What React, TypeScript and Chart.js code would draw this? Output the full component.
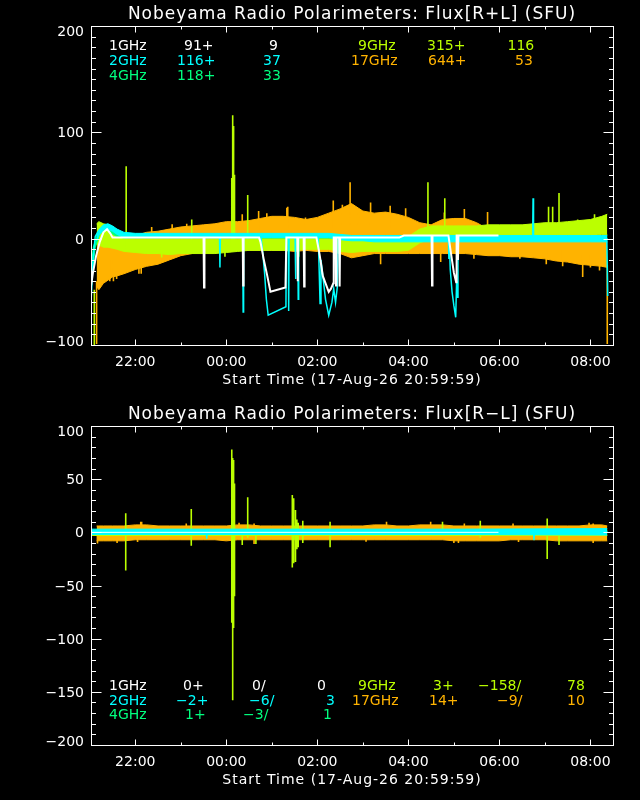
import React, { useEffect, useRef } from "react";
import { Chart, registerables } from "chart.js";

Chart.register(...registerables);

const WHITE = "#ffffff";
const CYAN = "#00ffff";
const GREEN = "#00ff7f";
const LIME = "#bbff00";
const ORANGE = "#ffb300";
const FONT = '"DejaVu Sans", "Liberation Sans", sans-serif';

// ---------- axes ----------
const X_MIN = 21.027;
const X_MAX = 32.496;
const X_TICKS = [22, 24, 26, 28, 30, 32];
const X_TICK_LABELS = ["22:00", "00:00", "02:00", "04:00", "06:00", "08:00"];
const X_MINOR = [22, 23, 24, 25, 26, 27, 28, 29, 30, 31, 32];
const SUM_Y_TICKS = [200, 100, 0, -100];
const SUM_Y_LABELS = ["200", "100", "0", "\u2212100"];
const DIF_Y_TICKS = [100, 50, 0, -50, -100, -150, -200];
const DIF_Y_LABELS = ["100", "50", "0", "\u221250", "\u2212100", "\u2212150", "\u2212200"];
const Y_MINOR_STEP = 10;

const SUM_TITLE = "Nobeyama Radio Polarimeters: Flux[R+L] (SFU)";
const DIF_TITLE = "Nobeyama Radio Polarimeters: Flux[R\u2212L] (SFU)";
const X_TITLE = "Start Time (17-Aug-26 20:59:59)";

// ---------- shared band times (hours from 00:00 on 17-Aug) ----------
const T = [21.15, 21.2, 21.3, 21.4, 21.5, 21.6, 21.75, 22.0, 22.25, 22.5, 22.75, 23.0, 23.25, 23.5, 23.75,
  24.0, 24.25, 24.5, 24.75, 25.0, 25.25, 25.5, 25.75, 26.0, 26.25, 26.5, 26.75, 27.0, 27.25, 27.5, 27.75,
  28.0, 28.25, 28.5, 28.75, 29.0, 29.25, 29.5, 29.75, 30.0, 30.25, 30.5, 30.75, 31.0, 31.25, 31.5, 31.75,
  32.0, 32.25, 32.37];

// ---------- R+L panel ----------
const SUM_ORANGE_HI = [-5, -3, -3, -2, -2, -1, 0, 3, 6, 7, 9, 11, 12, 13, 14, 16, 16, 17, 19, 21, 21, 20, 18, 20,
  24, 28, 33, 26, 24, 25, 23, 20, 15, 13, 18, 19, 19, 15, 9, 5, 3, 1, 0, 0, 0, -1, -1, -2, -2, -3];
const SUM_ORANGE_LO = [-45, -48, -42, -39, -36, -35, -33, -29, -26, -24, -20, -16, -14, -12, -11, -11, -11, -11, -11,
  -11, -11, -12, -11, -12, -12, -14, -18, -16, -14, -14, -14, -14, -14, -14, -14, -14, -14, -15, -16, -16, -17, -17,
  -18, -19, -21, -22, -24, -25, -26, -27];
const SUM_ORANGE_SPIKES = [[21.15, -99, -40], [21.44, -40, -20], [21.52, -40, -20], [21.59, -38, -20],
  [22.08, -33, -15], [22.13, -33, -15], [22.36, 0, 11], [22.81, 0, 13.5], [23.13, 0, 14], [24.35, 5, 23],
  [24.71, 5, 26], [24.89, 5, 24], [25.33, 10, 29], [25.35, 10, 30], [25.74, 5, 20], [26.35, 10, 36],
  [26.55, 10, 32], [26.72, 10, 53], [26.91, 10, 27], [27.17, 10, 34], [27.39, -24, -10], [27.6, 10, 31],
  [27.94, 10, 28.6], [28.71, -22, -10], [28.79, 5, 24.5], [29.23, 5, 28], [29.44, -19, -10], [29.74, 0, 25],
  [30.45, -19, -10], [31.03, -24, -10], [31.39, -26, -10], [31.83, -36, -15], [32.0, -27, -15],
  [32.2, -30, -15], [32.37, -99, -25]];

const SUM_LIME_HI = [14, 16, 14, 13, 10, 5, 0, -1, -1, -1, -1, -1, -1, -1, -1, -1, -1, 0, 0, 0, 0, 0, 0, 0, 0, -1, -2,
  -1, -1, -1, -1, 2, 9, 12, 12, 12, 12, 12, 13, 13, 13, 13, 14, 15, 15, 16, 17, 18, 21, 23];
const SUM_LIME_LO = [-5, -6, -8, -8, -9, -10, -12, -13, -14, -14, -15, -14, -14, -14, -14, -13, -12, -11, -11, -11,
  -11, -11, -10, -10, -10, -12, -13, -12, -12, -12, -12, -11, -4, 0, 1, 1, 1, 1, 1, 1, 1, 1, 1, 2, 2, 2, 2, 3, 4, 4];
const SUM_LIME_SPIKES = [[21.1, -100, -48], [21.8, -10, 68], [22.58, -17.7, -5], [23.24, -5, 18], [23.97, -17, -5],
  [24.12, -8, 57], [24.14, -8, 116], [24.16, -8, 106], [24.18, -8, 60], [24.47, -5, 41], [25.59, -17, -5],
  [28.43, 0, 53], [28.8, 0, 38], [31.08, 2, 30], [31.17, 2, 30], [31.31, 2, 43], [31.72, 5, 18], [32.09, 5, 23]];

const SUM_CYAN_HI = [3, 8, 13, 14, 12, 9, 6, 5, 5, 5, 5, 5, 5, 5, 5, 5, 5, 5, 5, 5, 5, 5, 5, 5, 5, 4, 3, 3, 3, 3, 3,
  3, 3, 3, 3, 3, 3, 3, 3, 3, 3, 3, 3, 3, 3, 3, 3, 3, 3, 3];
const SUM_CYAN_LO = [-2, 3, 8, 9, 7, 4, 1, 1, 1, 1, 1, 1, 1, 1, 1, 1, 1, 1, 1, 1, 1, 1, 1, 1, 1, -1, -2, -2, -3, -3,
  -3, -3, -3, -3, -3, -3, -3, -3, -3, -3, -3, -3, -3, -3, -3, -3, -3, -3, -3, -3];
const SUM_CYAN_T = [21.03, 21.07, 21.12, 21.2, 21.3, 21.4, 21.5, 21.6, 21.75, 22.0, 23.85, 23.86, 23.87, 24.36, 24.37,
  24.38, 24.76, 24.8, 24.84, 24.88, 24.92, 25.31, 25.32, 25.36, 25.37, 25.38, 25.51, 25.52, 25.53, 25.57, 25.58,
  25.59, 26.02, 26.06, 26.08, 26.12, 26.18, 26.25, 26.32, 26.36, 26.4, 26.44, 26.46, 28.88, 28.89, 28.9, 28.92,
  28.96, 29.0, 29.04, 29.06, 29.07, 29.09, 30.73, 30.74, 30.75, 32.36, 32.38];
const SUM_CYAN_V = [-58, -20, 2, 8, 12, 13, 11, 7, 4, 3, 3, -27, 3, 3, -69, 3, 2, -13, -32, -57, -72, -64, 3, 3, -68,
  3, 3, -38, 3, 3, -57, 3, 3, -61, -20, -35, -57, -72, -60, -47, -60, -45, 1, 0, -19, 0, -29, -50, -63, -74, -40,
  -55, 0, 0, 38, 0, 0, -54];

const SUM_WHITE_T = [21.03, 21.07, 21.14, 21.22, 21.3, 21.38, 21.45, 21.5, 23.5, 23.51, 23.52, 24.36, 24.37, 24.38,
  24.72, 24.75, 24.82, 24.9, 24.97, 25.3, 25.32, 25.56, 25.57, 25.58, 25.7, 25.71, 25.72, 25.98, 26.05, 26.12,
  26.25, 26.3, 26.35, 26.36, 26.4, 26.41, 26.42, 26.48, 26.49, 26.5, 27.8, 27.9, 28.51, 28.52, 28.53, 28.88,
  28.93, 29.0, 29.05, 29.06, 29.08, 29.09, 29.1, 29.98];
const SUM_WHITE_V = [-44, -32, -16, -3, 6, 9, 5, 1, 1, -46, 1, 1, -44, 1, 1, -3, -19, -35, -50, -46, 1, 1, -40, 1, 1,
  -45, 1, 1, -15, -35, -50, -47, -42, 1, 1, -44, 1, 1, -45, 1, 1, 3, 3, -44, 3, 3, -12, -32, -41, 3, 3, -20, 3, 3];

const SUM_GREEN_T = [21.03, 21.1, 21.2, 21.3, 21.38, 21.45, 21.6, 21.75, 32.37];
const SUM_GREEN_V = [-35, -8, 5, 9, 12, 7, 3, 1.5, 1.5];

const SUM_NOTE_TEXT = [["1GHz", "91+", "9", "9GHz", "315+", "116"], ["2GHz", "116+", "37", "17GHz", "644+", "53"],
  ["4GHz", "118+", "33"]];
const SUM_NOTE_COLOR = [[WHITE, WHITE, WHITE, LIME, LIME, LIME], [CYAN, CYAN, CYAN, ORANGE, ORANGE, ORANGE],
  [GREEN, GREEN, GREEN]];
const SUM_NOTE_X = [[109, 184, 269, 358, 427, 507.5], [109, 177, 263, 351, 428, 515], [109, 177, 263]];
const SUM_NOTE_Y = [45, 60, 75];

// ---------- R-L panel ----------
const DIF_ORANGE_HI = [6, 6, 6, 6, 6, 6, 6, 7, 7, 6, 6, 6, 6, 6, 6, 6, 7, 7, 6, 6, 6, 6, 6, 6, 6, 6, 6, 6, 7, 7, 6,
  6, 7, 7, 7, 6, 6, 6, 6, 6, 6, 6, 6, 6, 6, 6, 6, 7, 7, 6];
const DIF_ORANGE_LO = [-8, -8, -8, -8, -8, -8, -8, -7, -7, -7, -7, -7, -7, -7, -7, -8, -7, -7, -7, -7, -7, -7, -7,
  -7, -7, -7, -7, -7, -7, -7, -7, -7, -7, -7, -7, -8, -8, -8, -8, -8, -7, -7, -7, -7, -8, -8, -8, -8, -8, -8];
const DIF_ORANGE_SPIKES = [[21.17, -10.4, 0], [21.6, -10, 0], [22.05, -9, 0], [22.12, 0, 10], [22.14, 0, 10],
  [23.12, 0, 8.4], [24.28, 0, 9], [24.61, -11, 8.4], [27.07, -8.8, 0], [27.52, 0, 10], [28.49, 0, 10],
  [29.0, -10, 0], [29.1, -10, 0], [29.23, 0, 8.4], [30.3, 0, 8.4], [30.42, -9, 0], [31.97, 0, 9], [32.06, -10, 8.4]];

const DIF_LIME_T = [21.03, 32.37];
const DIF_LIME_HI = [2, 2];
const DIF_LIME_LO = [-3, -3];
const DIF_LIME_SPIKES = [[21.79, -36, 18], [23.23, -12.5, 22], [24.12, -85, 78], [24.14, -158, 70],
  [24.16, -90, 68], [24.18, -60, 46], [24.35, -12, 3], [24.47, -5, 33], [24.65, -11, 3], [25.45, -33, 35],
  [25.48, -29, 32], [25.52, -28, 21], [25.55, -16, 12], [25.58, -14, 9], [25.68, -10, 11], [26.28, -14, 10],
  [28.75, -3, 10], [29.58, -5, 11], [31.05, -25, 13], [31.31, -12, 3]];

const DIF_CYAN_BAND_T = [21.03, 29.0, 32.37];
const DIF_CYAN_HI = [3, 3, 3.5];
const DIF_CYAN_LO = [-2, -2, -2.5];
const DIF_CYAN_T = [21.03, 23.56, 23.57, 23.58, 30.75, 30.76, 30.77, 32.37];
const DIF_CYAN_V = [0.5, 0.5, -6, 0.5, 0.5, -7.5, 0.5, 0.5];

const DIF_WHITE_T = [21.03, 29.98];
const DIF_WHITE_V = [0, 0];
const DIF_GREEN_T = [21.03, 32.37];
const DIF_GREEN_V = [0.5, 0.5];

const DIF_NOTE_TEXT = [["1GHz", "0+", "0/", "0", "9GHz", "3+", "\u2212158/", "78"],
  ["2GHz", "\u22122+", "\u22126/", "3", "17GHz", "14+", "\u22129/", "10"],
  ["4GHz", "1+", "\u22123/", "1"]];
const DIF_NOTE_COLOR = [[WHITE, WHITE, WHITE, WHITE, LIME, LIME, LIME, LIME],
  [CYAN, CYAN, CYAN, CYAN, ORANGE, ORANGE, ORANGE, ORANGE], [GREEN, GREEN, GREEN, GREEN]];
const DIF_NOTE_X = [[109, 183, 252, 317, 358, 433, 478, 567], [109, 176, 249, 326, 352, 429, 497, 567],
  [109, 185, 243, 323]];
const DIF_NOTE_Y = [285, 300, 314];

// ---------- helpers ----------
const pts = (ts: number[], vs: number[]) => ts.map((t, i) => ({ x: t, y: vs[i] }));
const spikePts = (sp: number[][]) =>
  sp.flatMap(([t, lo, hi]) => [{ x: t, y: lo }, { x: t, y: hi }, { x: t, y: null as any }]);

function line(data: any[], color: string, width: number, order: number) {
  return { data, borderColor: color, backgroundColor: color, borderWidth: width, fill: false, order,
    pointRadius: 0, tension: 0, spanGaps: false };
}
function band(ts: number[], hi: number[], lo: number[], color: string, order: number) {
  return [
    { data: pts(ts, hi), borderColor: color, backgroundColor: color, borderWidth: 1, fill: "+1", order,
      pointRadius: 0, tension: 0 },
    { data: pts(ts, lo), borderColor: color, backgroundColor: color, borderWidth: 1, fill: false, order,
      pointRadius: 0, tension: 0 },
  ];
}

function drawText(ctx: any, s: string, x: number, cy: number, size: number, color: string, align: string,
  spacing = "0px") {
  ctx.font = `${size}px ${FONT}`;
  try { ctx.letterSpacing = spacing; } catch (e) { /* ignore */ }
  ctx.fillStyle = color;
  ctx.textAlign = align;
  ctx.textBaseline = "alphabetic";
  ctx.fillText(s, x, cy + size * 0.364);
}

const decoPlugin = {
  id: "deco",
  afterDraw(chart: any, _a: any, o: any) {
    const ctx = chart.ctx;
    const { left, right, top, bottom } = chart.chartArea;
    const xs = chart.scales.x;
    const ys = chart.scales.y;
    ctx.save();
    ctx.strokeStyle = WHITE;
    ctx.lineWidth = 1;
    ctx.strokeRect(left + 0.5, top + 0.5, right - left, bottom - top);
    ctx.beginPath();
    for (const h of X_MINOR) {
      const px = Math.round(xs.getPixelForValue(h)) + 0.5;
      const len = X_TICKS.includes(h) ? 6 : 3;
      ctx.moveTo(px, bottom + 0.5); ctx.lineTo(px, bottom + 0.5 - len);
      ctx.moveTo(px, top + 0.5); ctx.lineTo(px, top + 0.5 + len);
    }
    for (let v = ys.min + Y_MINOR_STEP; v < ys.max; v += Y_MINOR_STEP) {
      const py = Math.round(ys.getPixelForValue(v)) + 0.5;
      const len = o.yTicks.includes(v) ? 10 : 4.5;
      ctx.moveTo(left + 0.5, py); ctx.lineTo(left + 0.5 + len, py);
      ctx.moveTo(right + 0.5, py); ctx.lineTo(right + 0.5 - len, py);
    }
    ctx.stroke();

    X_TICKS.forEach((h, i) => {
      drawText(ctx, X_TICK_LABELS[i], xs.getPixelForValue(h), 361, 14, WHITE, "center");
    });
    o.yTicks.forEach((v: number, i: number) => {
      let py = ys.getPixelForValue(v);
      if (v === ys.max) py += 5;
      if (v === ys.min) py -= 4;
      drawText(ctx, o.yLabels[i], 84, py, 14, WHITE, "right");
    });
    drawText(ctx, o.title, (left + right) / 2, 12.5, 17, WHITE, "center", "1px");
    drawText(ctx, X_TITLE, (left + right) / 2, 379, 14, WHITE, "center", "1px");
    o.noteText.forEach((row: string[], r: number) => {
      row.forEach((s: string, c: number) => {
        drawText(ctx, s, o.noteX[r][c], o.noteY[r], 14, o.noteColor[r][c], "left");
      });
    });
    ctx.restore();
  },
};

function makeConfig(datasets: any[], yMin: number, yMax: number, deco: any): any {
  return {
    type: "line",
    data: { datasets },
    options: {
      responsive: false,
      animation: false,
      events: [],
      layout: { padding: { left: 91, right: 27, top: 26, bottom: 55 } },
      scales: {
        x: { type: "linear", min: X_MIN, max: X_MAX, display: false },
        y: { type: "linear", min: yMin, max: yMax, display: false },
      },
      plugins: { legend: { display: false }, tooltip: { enabled: false }, title: { display: false }, deco },
      elements: { point: { radius: 0, hoverRadius: 0 }, line: { tension: 0 } },
    },
    plugins: [decoPlugin],
  };
}

function sumDatasets() {
  return [
    line(pts(SUM_WHITE_T, SUM_WHITE_V), WHITE, 2, 0),
    line(pts(SUM_CYAN_T, SUM_CYAN_V), CYAN, 1.5, 1),
    ...band(T, SUM_CYAN_HI, SUM_CYAN_LO, CYAN, 1),
    line(pts(SUM_GREEN_T, SUM_GREEN_V), GREEN, 3, 2),
    line(spikePts(SUM_LIME_SPIKES), LIME, 1.6, 3),
    ...band(T, SUM_LIME_HI, SUM_LIME_LO, LIME, 3),
    line(spikePts(SUM_ORANGE_SPIKES), ORANGE, 1.6, 4),
    ...band(T, SUM_ORANGE_HI, SUM_ORANGE_LO, ORANGE, 4),
  ];
}

function difDatasets() {
  return [
    line(pts(DIF_WHITE_T, DIF_WHITE_V), WHITE, 1, 0),
    line(pts(DIF_CYAN_T, DIF_CYAN_V), CYAN, 1.5, 1),
    ...band(DIF_CYAN_BAND_T, DIF_CYAN_HI, DIF_CYAN_LO, CYAN, 1),
    line(pts(DIF_GREEN_T, DIF_GREEN_V), GREEN, 2, 2),
    line(spikePts(DIF_LIME_SPIKES), LIME, 1.6, 3),
    ...band(DIF_LIME_T, DIF_LIME_HI, DIF_LIME_LO, LIME, 3),
    line(spikePts(DIF_ORANGE_SPIKES), ORANGE, 1.6, 4),
    ...band(T, DIF_ORANGE_HI, DIF_ORANGE_LO, ORANGE, 4),
  ];
}

export default function App() {
  const topRef = useRef<HTMLCanvasElement>(null);
  const botRef = useRef<HTMLCanvasElement>(null);
  useEffect(() => {
    const c1 = new Chart(topRef.current as HTMLCanvasElement, makeConfig(sumDatasets(), -100, 200, {
      title: SUM_TITLE, yTicks: SUM_Y_TICKS, yLabels: SUM_Y_LABELS,
      noteText: SUM_NOTE_TEXT, noteColor: SUM_NOTE_COLOR, noteX: SUM_NOTE_X, noteY: SUM_NOTE_Y,
    }));
    const c2 = new Chart(botRef.current as HTMLCanvasElement, makeConfig(difDatasets(), -200, 100, {
      title: DIF_TITLE, yTicks: DIF_Y_TICKS, yLabels: DIF_Y_LABELS,
      noteText: DIF_NOTE_TEXT, noteColor: DIF_NOTE_COLOR, noteX: DIF_NOTE_X, noteY: DIF_NOTE_Y,
    }));
    return () => { c1.destroy(); c2.destroy(); };
  }, []);
  return (
    <div style={{ position: "fixed", left: 0, top: 0, width: 640, height: 800, background: "#000" }}>
      <canvas ref={topRef} width={640} height={400} style={{ display: "block", width: 640, height: 400 }} />
      <canvas ref={botRef} width={640} height={400} style={{ display: "block", width: 640, height: 400 }} />
    </div>
  );
}
